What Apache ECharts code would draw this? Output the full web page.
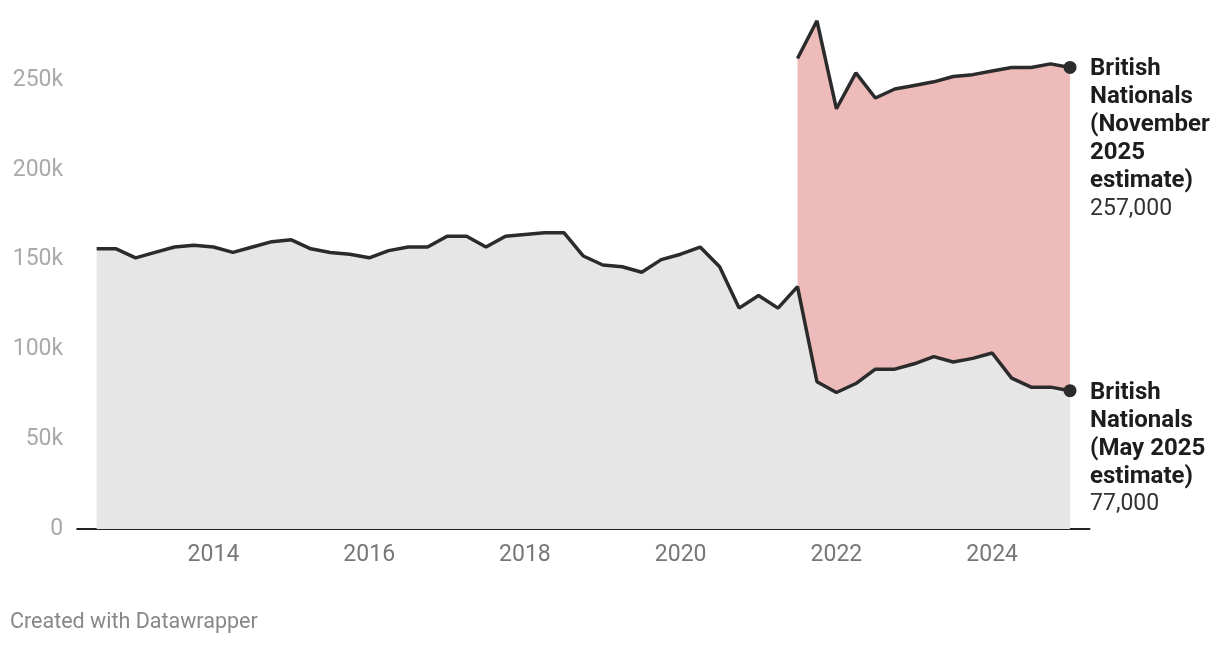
<!DOCTYPE html>
<html>
<head>
<meta charset="utf-8">
<script src="https://cdn.jsdelivr.net/npm/echarts@6/dist/echarts.min.js"></script>
<style>
  html, body { margin: 0; padding: 0; background: #fff; }
  #chart { width: 1220px; height: 646px; }
</style>
</head>
<body>
<div id="chart"></div>
<script>
// quarters as decimal years (Q3 2012 .. Q1 2025)
var quarters = [
  2012.5, 2012.75,
  2013, 2013.25, 2013.5, 2013.75,
  2014, 2014.25, 2014.5, 2014.75,
  2015, 2015.25, 2015.5, 2015.75,
  2016, 2016.25, 2016.5, 2016.75,
  2017, 2017.25, 2017.5, 2017.75,
  2018, 2018.25, 2018.5, 2018.75,
  2019, 2019.25, 2019.5, 2019.75,
  2020, 2020.25, 2020.5, 2020.75,
  2021, 2021.25, 2021.5, 2021.75,
  2022, 2022.25, 2022.5, 2022.75,
  2023, 2023.25, 2023.5, 2023.75,
  2024, 2024.25, 2024.5, 2024.75,
  2025
];

// thousands - May 2025 estimate
var mayEstimate = [
  156, 156,
  151, 154, 157, 158,
  157, 154, 157, 160,
  161, 156, 154, 153,
  151, 155, 157, 157,
  163, 163, 157, 163,
  164, 165, 165, 152,
  147, 146, 143, 150,
  153, 157, 146, 123,
  130, 123, 135, 82,
  76, 81, 89, 89,
  92, 96, 93, 95,
  98, 84, 79, 79,
  77
];

// thousands - November 2025 estimate (only from mid 2021)
var novEstimate = [
  null, null,
  null, null, null, null,
  null, null, null, null,
  null, null, null, null,
  null, null, null, null,
  null, null, null, null,
  null, null, null, null,
  null, null, null, null,
  null, null, null, null,
  null, null, 262, 283,
  234, 254, 240, 245,
  247, 249, 252, 253,
  255, 257, 257, 259,
  257
];

var yTicks = [0, 50, 100, 150, 200, 250];

var novLabel = ['British', 'Nationals', '(November', '2025', 'estimate)'];
var mayLabel = ['British', 'Nationals', '(May 2025', 'estimate)'];

function pairs(vals) {
  var out = [];
  for (var i = 0; i < vals.length; i++) {
    if (vals[i] !== null) out.push([quarters[i], vals[i]]);
  }
  return out;
}

function endLabel(lines) {
  return {
    show: true,
    distance: 20,
    align: 'left',
    verticalAlign: 'top',
    offset: [0, -12],
    formatter: function (p) {
      var txt = lines.map(function (l) { return '{b|' + l + '}'; }).join('\n');
      return txt + '\n{n|' + (p.value[1] * 1000).toLocaleString('en-US') + '}';
    },
    rich: {
      b: { fontFamily: 'Roboto', fontWeight: 'bold', fontSize: 24, lineHeight: 28, color: '#1d1d1d' },
      n: { fontFamily: 'Roboto', fontSize: 23, lineHeight: 28, color: '#333' }
    }
  };
}

var novData = pairs(novEstimate);
var mayData = pairs(mayEstimate);

var myChart = echarts.init(document.getElementById('chart'));
myChart.setOption({
  animation: false,
  backgroundColor: '#fff',
  textStyle: { fontFamily: 'Roboto' },
  title: {
    text: 'Created with Datawrapper',
    left: 5,
    top: 607,
    textStyle: { fontFamily: 'Roboto', fontSize: 21.5, fontWeight: 'normal', color: '#888' }
  },
  grid: { left: 77.2, right: 130.5, top: 8.2, bottom: 117 },
  xAxis: {
    type: 'value',
    min: 2012.25,
    max: 2025.25,
    interval: 0.25,
    splitLine: { show: false },
    axisTick: { show: false },
    axisLine: { show: true, lineStyle: { color: '#222', width: 2 } },
    axisLabel: {
      margin: 15,
      fontFamily: 'Roboto',
      fontSize: 23,
      color: '#777',
      showMinLabel: false,
      showMaxLabel: false,
      formatter: function (v) {
        return (v % 2 === 0) ? String(v) : '';
      }
    }
  },
  yAxis: {
    type: 'value',
    min: 0,
    max: 290,
    interval: 50,
    splitLine: { show: false },
    axisTick: { show: false },
    axisLine: { show: false },
    axisLabel: {
      margin: 14,
      fontFamily: 'Roboto',
      fontSize: 23,
      color: '#aaa',
      showMaxLabel: false,
      formatter: function (v) {
        if (yTicks.indexOf(v) < 0) return '';
        return v === 0 ? '0' : v + 'k';
      }
    }
  },
  series: [
    {
      name: 'British Nationals (November 2025 estimate)',
      type: 'line',
      data: novData,
      showSymbol: true,
      symbol: 'circle',
      symbolSize: function (v, p) { return p.dataIndex === novData.length - 1 ? 13 : 0; },
      itemStyle: { color: '#2b2b2b' },
      lineStyle: { color: '#2b2b2b', width: 3.5 },
      areaStyle: { color: '#eebbbb', opacity: 1 },
      endLabel: endLabel(novLabel),
      z: 2
    },
    {
      name: 'British Nationals (May 2025 estimate)',
      type: 'line',
      data: mayData,
      showSymbol: true,
      symbol: 'circle',
      symbolSize: function (v, p) { return p.dataIndex === mayData.length - 1 ? 13 : 0; },
      itemStyle: { color: '#2b2b2b' },
      lineStyle: { color: '#2b2b2b', width: 3.5 },
      areaStyle: { color: '#e6e6e6', opacity: 1 },
      endLabel: endLabel(mayLabel),
      z: 3
    }
  ]
});
</script>
</body>
</html>
